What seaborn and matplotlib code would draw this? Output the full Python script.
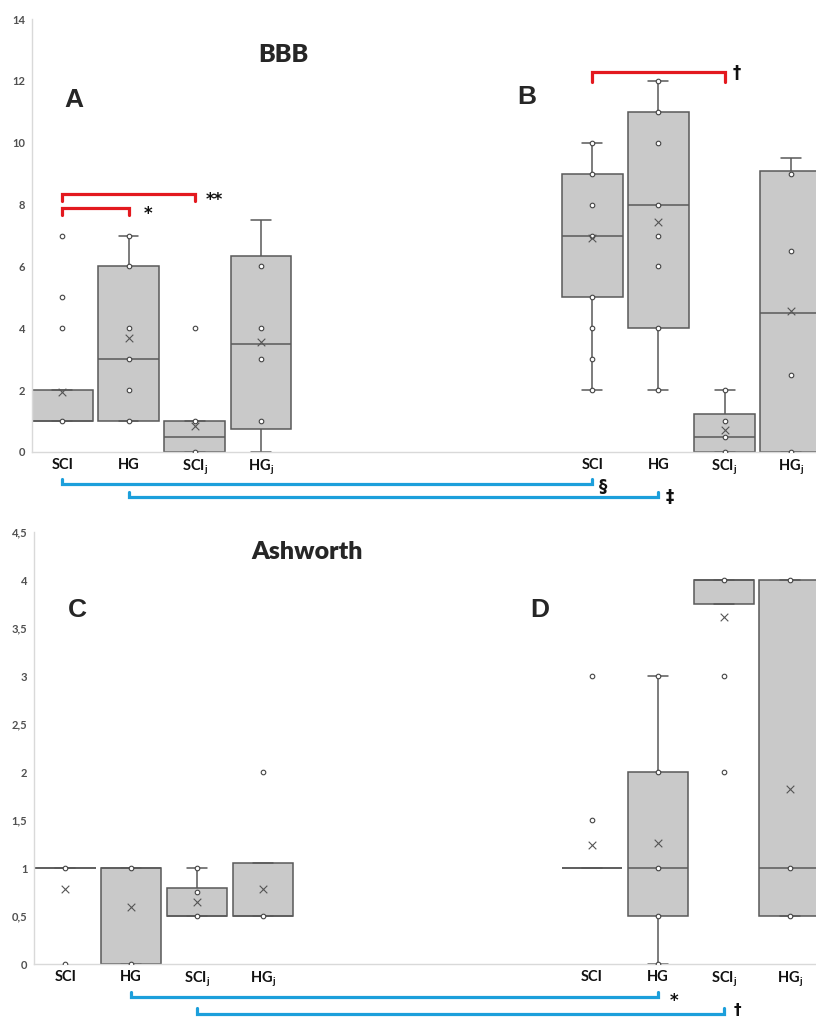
## Import Libraries

import numpy as np
import pandas as pd
import matplotlib.pyplot as plt
import seaborn as sns

# groups, left panel (A / C) then right panel (B / D) on the same axis
groups = ["SCI", "HG", "SCIj", "HGj"]
group_labels = ["SCI", "HG", "SCI$_\\mathbf{j}$", "HG$_\\mathbf{j}$"]
n_gap = 4

# BBB - box summaries: (low whisker, Q1, median, Q3, high whisker)
bbb_box_left = [[1, 1, 1, 2, 2], [1, 1, 3, 6, 7], [0, 0, 0.5, 1, 1], [0, 0.75, 3.5, 6.35, 7.5]]
bbb_box_right = [[2, 5, 7, 9, 10], [2, 4, 8, 11, 12], [0, 0, 0.5, 1.22, 2], [0, 0, 4.5, 9.1, 9.5]]
bbb_mean_left = [1.93, 3.7, 0.85, 3.57]
bbb_mean_right = [6.92, 7.45, 0.72, 4.56]
bbb_pts_left = [[1, 4, 5, 7], [1, 2, 3, 4, 6, 7], [0, 1, 4], [1, 3, 4, 6]]
bbb_pts_right = [[2, 3, 4, 5, 7, 8, 9, 10], [2, 4, 6, 7, 8, 10, 11, 12], [0, 0.5, 1, 2], [0, 2.5, 6.5, 9]]
bbb_yticks = [0, 2, 4, 6, 8, 10, 12, 14]
bbb_ytick_labels = ["0", "2", "4", "6", "8", "10", "12", "14"]

# Ashworth
ash_box_left = [[1, 1, 1, 1, 1], [0, 0, 1, 1, 1], [0.5, 0.5, 0.5, 0.8, 1], [0.5, 0.5, 0.5, 1.06, 1.06]]
ash_box_right = [[1, 1, 1, 1, 1], [0, 0.5, 1, 2, 3], [3.75, 3.75, 4, 4, 4], [0.5, 0.5, 1, 4, 4]]
ash_mean_left = [0.78, 0.6, 0.65, 0.78]
ash_mean_right = [1.24, 1.26, 3.62, 1.83]
ash_pts_left = [[0, 1], [0, 1], [0.5, 0.75, 1], [0.5, 2]]
ash_pts_right = [[1.5, 3], [0, 0.5, 1, 2, 3], [2, 3, 4], [0.5, 1, 4]]
ash_yticks = [0, 0.5, 1, 1.5, 2, 2.5, 3, 3.5, 4, 4.5]
ash_ytick_labels = ["0", "0,5", "1", "1,5", "2", "2,5", "3", "3,5", "4", "4,5"]

slots = ["L" + g for g in groups] + ["gap%d" % i for i in range(n_gap)] + ["R" + g for g in groups]
slot_labels = group_labels + [""] * n_gap + group_labels

BOX_FILL = "#c9c9c9"
LINE = "#595959"
RED = "#e3191f"
BLUE = "#1c9fdb"

sns.set_style("white")
plt.rcParams["font.family"] = ["Lato", "DejaVu Sans"]
plt.rcParams["mathtext.fontset"] = "custom"
plt.rcParams["mathtext.rm"] = "Lato"
plt.rcParams["mathtext.bf"] = "Lato:bold"


def long_frame(left, right):
    rows = []
    for g, vals in zip(groups, left):
        vals = vals if isinstance(vals, list) else [vals]
        rows += [("L" + g, v) for v in vals]
    for g, vals in zip(groups, right):
        vals = vals if isinstance(vals, list) else [vals]
        rows += [("R" + g, v) for v in vals]
    return pd.DataFrame(rows, columns=["slot", "value"])


def draw_panel(ax, box_l, box_r, pts_l, pts_r, mean_l, mean_r, ylim, yticks, ylabels, xlim):
    sns.boxplot(data=long_frame(box_l, box_r), x="slot", y="value", order=slots,
                whis=(0, 100), width=0.92, color=BOX_FILL, saturation=1,
                linecolor=LINE, linewidth=1.1, capwidths=0.3, ax=ax)
    sns.stripplot(data=long_frame(pts_l, pts_r), x="slot", y="value", order=slots,
                  jitter=False, color="white", edgecolor="#444444", linewidth=0.8,
                  size=3.3, zorder=4, ax=ax)
    sns.stripplot(data=long_frame(mean_l, mean_r), x="slot", y="value", order=slots,
                  jitter=False, marker="x", color="#555555", linewidth=0.8,
                  size=5.5, zorder=5, ax=ax)
    ax.set_xlim(*xlim)
    ax.set_ylim(*ylim)
    ax.set_xticks(range(len(slots)))
    ax.set_xticklabels(slot_labels, fontsize=10.5, fontweight="bold", color="#111111")
    ax.set_yticks(yticks)
    ax.set_yticklabels(ylabels, fontsize=8, fontweight="bold", color="#505050")
    ax.tick_params(axis="both", length=0)
    ax.tick_params(axis="x", pad=4)
    ax.tick_params(axis="y", pad=5)
    ax.set_xlabel("")
    ax.set_ylabel("")
    for side in ["top", "right"]:
        ax.spines[side].set_visible(False)
    for side in ["left", "bottom"]:
        ax.spines[side].set_color("#d9d9d9")
        ax.spines[side].set_linewidth(1)


def bracket(ax, x0, x1, y, leg, color, transform=None):
    kw = {} if transform is None else {"transform": transform}
    ax.plot([x0, x0, x1, x1], [y + leg, y, y, y + leg], color=color, lw=2.3,
            solid_joinstyle="miter", clip_on=False, zorder=6, **kw)


fig = plt.figure(figsize=(8.16, 10.17), dpi=100)
ax1 = fig.add_axes([32 / 816, 1 - 452 / 1017, 784 / 816, 433 / 1017])
ax2 = fig.add_axes([34.3 / 816, 1 - 964.3 / 1017, 781.7 / 816, 432 / 1017])

draw_panel(ax1, bbb_box_left, bbb_box_right, bbb_pts_left, bbb_pts_right,
           bbb_mean_left, bbb_mean_right, (0, 14), bbb_yticks, bbb_ytick_labels,
           (-0.457, 11.38))
draw_panel(ax2, ash_box_left, ash_box_right, ash_pts_left, ash_pts_right,
           ash_mean_left, ash_mean_right, (0, 4.5), ash_yticks, ash_ytick_labels,
           (-0.47, 11.4))

# significance brackets
sym = dict(fontsize=12, fontweight="bold", family="DejaVu Sans", ha="center", va="center",
           color="#111111", clip_on=False)
bracket(ax1, 0, 1, 7.9, -0.25, RED)
bracket(ax1, 0, 2, 8.35, -0.25, RED)
bracket(ax1, 8, 10, 12.29, -0.32, RED)
ax1.text(1.29, 7.7, "*", **sym)
ax1.text(2.29, 8.15, "**", **sym)
ax1.text(10.18, 12.26, "†", **sym)

t1 = ax1.get_xaxis_transform()
bracket(ax1, 0, 8, -0.074, 0.012, BLUE, t1)
bracket(ax1, 1, 9, -0.104, 0.012, BLUE, t1)
ax1.text(8.16, -0.08, "§", transform=t1, **sym)
ax1.text(9.17, -0.104, "‡", transform=t1, **sym)

t2 = ax2.get_xaxis_transform()
bracket(ax2, 1, 9, -0.0757, 0.012, BLUE, t2)
bracket(ax2, 2, 10, -0.115, 0.014, BLUE, t2)
ax2.text(9.24, -0.084, "*", transform=t2, **sym)
ax2.text(10.2, -0.106, "†", transform=t2, fontsize=11, fontweight="bold",
         family="DejaVu Sans", ha="center", va="center", color="#111111", clip_on=False)

# titles and panel letters
fig.text(283 / 816, 1 - 55 / 1017, "BBB", fontsize=18, fontweight="heavy", ha="center", va="center")
fig.text(307 / 816, 1 - 552 / 1017, "Ashworth", fontsize=18, fontweight="heavy", ha="center", va="center")
for letter, px, py in [("A", 74, 100), ("B", 527, 97), ("C", 77, 610), ("D", 540, 610)]:
    fig.text(px / 816, 1 - py / 1017, letter, fontsize=19, fontweight="bold",
             family="Liberation Sans", ha="center", va="center")

fig.savefig("out.png", dpi=100)
